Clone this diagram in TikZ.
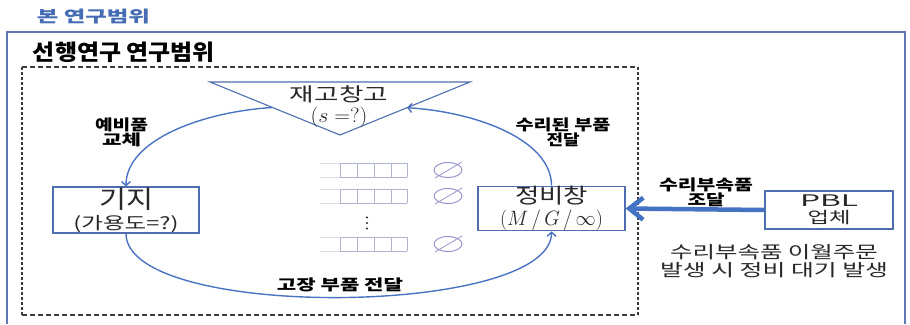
\documentclass[tikz,border=0pt]{standalone}
\usepackage{fontspec}
\setmainfont{Noto Sans CJK KR}
\usepackage{graphicx}
\usetikzlibrary{arrows.meta}
\definecolor{titleblue}{RGB}{70,108,180}
\definecolor{frameblue}{RGB}{95,120,180}
\definecolor{boxblue}{RGB}{80,110,175}
\definecolor{arcblue}{RGB}{75,115,195}
\definecolor{bigblue}{RGB}{68,114,196}
\definecolor{cellc}{RGB}{175,180,205}
\definecolor{ovalc}{RGB}{150,150,205}
\definecolor{dashc}{RGB}{60,60,60}
\definecolor{txtc}{RGB}{40,40,40}
\newcommand\fw[2]{\resizebox{#1pt}{\height}{#2}}
\tikzset{
  boxst/.style={draw=boxblue, line width=1.1pt, fill=white, inner sep=0pt, align=center, text=txtc},
  txtst/.style={inner sep=0pt, align=center, text=txtc},
  lbl/.style={font=\bfseries\fontsize{15}{14}\selectfont, align=center, inner sep=0pt, text=black},
  flow/.style={draw=arcblue, line width=1.4pt, -{Straight Barb[length=4pt,width=9pt]}},
  cell/.style={draw=cellc, line width=0.8pt},
  cellfade/.style={draw=cellc!45, line width=0.8pt},
  oval/.style={draw=ovalc, line width=1pt},
}
\begin{document}
\begin{tikzpicture}[x=1pt,y=-1pt]
\useasboundingbox (0,0) rectangle (910,324);
% title and frames
\node[inner sep=0pt, text=titleblue, font=\bfseries\fontsize{16}{16}\selectfont] (title) at (93.5,17) {\fw{113}{본 연구범위}};
\draw[frameblue, line width=1.2pt] (7,324) -- (7,32) -- (905,32) -- (905,324);
\node[inner sep=0pt, font=\bfseries\fontsize{22}{22}\selectfont] (sub) at (124,52) {\fw{182}{선행연구 연구범위}};
\draw[dashc, line width=1.3pt, dash pattern=on 5pt off 3pt] (22,67) -- (638,67) (22,315) -- (638,315);
\draw[dashc, line width=1.8pt, dash pattern=on 3pt off 2pt] (22,67) -- (22,315) (638,67) -- (638,315);

% stock (inverted triangle)
\draw[boxblue, line width=1.1pt, fill=white] (210,82) -- (470,82) -- (340,135) -- cycle;
\coordinate (tl) at (272,107.5);
\coordinate (tr) at (407,107.7);
\node[txtst, font=\fontsize{19}{21}\selectfont] (stock) at (339,107) {\fw{98}{재고창고}\\{\fontsize{21}{21}\selectfont\fw{57}{$(s=?)$}}};

% boxes
\node[boxst, minimum width=146pt, minimum height=46pt, font=\fontsize{17}{21}\selectfont] (base) at (126,210) {{\fontsize{25}{21}\selectfont\fw{54}{기지}}\\\fw{105}{(가용도=?)}};
\node[boxst, minimum width=147pt, minimum height=42pt, font=\fontsize{21}{22}\selectfont] (depot) at (551.5,208.5) {{\fontsize{21}{21}\selectfont\fw{73}{정비창}}\\\fw{103}{$(M\,/\,G\,/\,\infty)$}};
\node[boxst, minimum width=128pt, minimum height=38pt, font=\fontsize{16}{17}\selectfont] (pbl) at (829,210) {\fw{58}{PBL}\\\fw{43}{업체}};

% queues
\foreach \ty in {163,189,237} {
  \draw[cellfade] (320,\ty) -- (340,\ty) (320,\ty+14) -- (340,\ty+14);
  \draw[cell] (340,\ty) -- (407,\ty) (340,\ty+14) -- (407,\ty+14);
  \foreach \xx in {340,357,374,391,407} \draw[cell] (\xx,\ty) -- (\xx,\ty+14);
}
\foreach \yc in {170,196,244} {
  \draw[oval] (448,\yc) ellipse [x radius=14pt, y radius=7.5pt];
  \draw[oval, line width=0.8pt] (435,\yc+8) -- (462,\yc-8);
}
\foreach \yd in {217.5,223,228.5} \fill[txtc] (367,\yd) circle [radius=1.1pt];

% flows
\draw[flow] (tl) .. controls (202,112) and (126,140) .. (base.north);
\draw[flow] (depot.north) .. controls (551.5,140) and (477,112) .. (tr);
\draw[flow] (base.south) .. controls (126,321) and (551.5,317) .. (depot.south);
\draw[bigblue, line width=4.5pt, -{Straight Barb[length=14pt,width=22pt]}] (pbl.west) -- (depot.east);

% labels
\node[lbl] (l1) at (121.5,132) {\fw{53}{예비품}\\\fw{39}{교체}};
\node[lbl] (l2) at (563,132) {\fw{95}{수리된 부품}\\\fw{33}{전달}};
\node[lbl] (l3) at (340,285) {\fw{126}{고장 부품 전달}};
\node[lbl, font=\bfseries\fontsize{15}{15}\selectfont] (l4) at (706,192.5) {\fw{94}{수리부속품}\\\fw{37}{조달}};
\node[txtst, font=\fontsize{17}{18}\selectfont] (note) at (774,261) {\fw{208}{수리부속품 이월주문}\\\fw{228}{발생 시 정비 대기 발생}};
\end{tikzpicture}
\end{document}
